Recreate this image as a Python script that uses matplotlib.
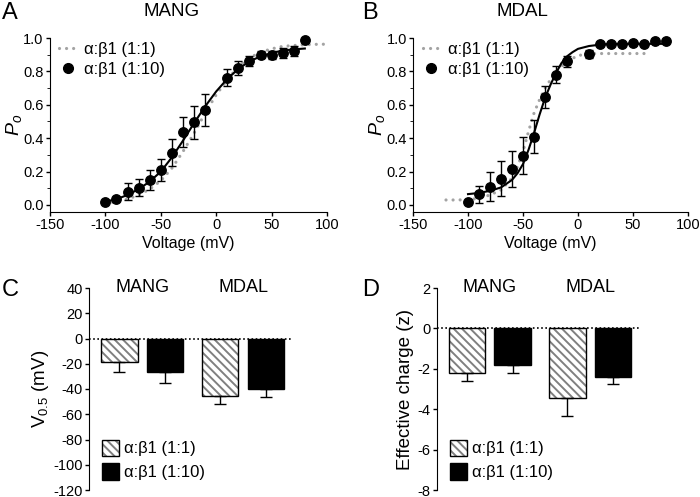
import numpy as np
import matplotlib
matplotlib.use("Agg")
import matplotlib.pyplot as plt
from matplotlib.lines import Line2D
from matplotlib.legend_handler import HandlerTuple

plt.rcParams['font.family'] = ['Liberation Sans', 'DejaVu Sans']
plt.rcParams['mathtext.fontset'] = 'custom'
plt.rcParams['mathtext.rm'] = 'Liberation Sans'
plt.rcParams['mathtext.it'] = 'Liberation Sans:italic'
plt.rcParams['axes.unicode_minus'] = False
plt.rcParams['hatch.linewidth'] = 1.4

# Panel A (MANG) - alpha:beta1 (1:10) data
volt_a = [-100, -90, -80, -70, -60, -50, -40, -30, -20, -10, 10, 20, 30, 40, 50, 60, 70, 80]
po_a = [0.016, 0.036, 0.08, 0.104, 0.15, 0.21, 0.314, 0.436, 0.496, 0.57,
        0.762, 0.82, 0.86, 0.9, 0.9, 0.91, 0.92, 0.986]
err_a = [0.005, 0.01, 0.05, 0.052, 0.06, 0.068, 0.082, 0.088, 0.098, 0.096,
         0.052, 0.04, 0.03, 0.02, 0.025, 0.03, 0.03, 0.0]
# fit lines
fit_v_a = [-100, -90, -80, -70, -60, -50, -40, -30, -20, -10, 0, 10, 20, 30, 40, 50, 60, 70, 80]
fit_a = [0.02, 0.035, 0.06, 0.095, 0.14, 0.2, 0.285, 0.385, 0.49, 0.59, 0.68,
         0.755, 0.815, 0.86, 0.89, 0.91, 0.925, 0.932, 0.937]
gray_v_a = [-100, -90, -80, -70, -60, -50, -40, -30, -20, -10, 0, 10, 20, 30, 40, 50, 60, 70, 80, 90, 100]
gray_a = [0.01, 0.02, 0.035, 0.06, 0.095, 0.145, 0.22, 0.32, 0.43, 0.55, 0.66,
          0.75, 0.83, 0.88, 0.915, 0.935, 0.95, 0.955, 0.96, 0.962, 0.963]

# Panel B (MDAL)
volt_b = [-100, -90, -80, -70, -60, -50, -40, -30, -20, -10, 10, 20, 30, 40, 50, 60, 70, 80]
po_b = [0.016, 0.064, 0.11, 0.156, 0.216, 0.296, 0.41, 0.644, 0.78, 0.86,
        0.905, 0.965, 0.965, 0.965, 0.97, 0.965, 0.985, 0.985]
err_b = [0.0, 0.05, 0.085, 0.105, 0.11, 0.11, 0.1, 0.066, 0.05, 0.035,
         0.025, 0, 0, 0, 0, 0, 0, 0]
fit_v_b = [-100, -90, -80, -70, -60, -55, -50, -45, -40, -35, -30, -25, -20, -15, -10, -5, 0, 10, 20, 30, 80]
fit_b = [0.065, 0.072, 0.085, 0.105, 0.15, 0.19, 0.245, 0.33, 0.43, 0.54, 0.64,
         0.72, 0.79, 0.85, 0.89, 0.915, 0.935, 0.952, 0.96, 0.965, 0.965]
gray_v_b = [-120, -110, -100, -90, -80, -70, -60, -55, -50, -45, -40, -35, -30, -25, -20, -10, 0, 10, 20, 60]
gray_b = [0.03, 0.03, 0.032, 0.04, 0.06, 0.09, 0.16, 0.23, 0.32, 0.44, 0.55, 0.63, 0.7,
          0.75, 0.8, 0.86, 0.895, 0.905, 0.907, 0.907]

# Panels C and D
groups = ['MANG', 'MDAL']
v05_11 = [-19, -45.5]
v05_11_err = [7.8, 6]
v05_110 = [-26.5, -40.3]
v05_110_err = [8.8, 6.2]
z_11 = [-2.2, -3.45]
z_11_err = [0.4, 0.88]
z_110 = [-1.83, -2.43]
z_110_err = [0.38, 0.32]

lab11 = 'α:β1 (1:1)'
lab110 = 'α:β1 (1:10)'
gray = '#a3a3a3'
dots = (0, (0.01, 2.2))

fig = plt.figure(figsize=(7, 4.97), dpi=100)
H = 497.0


def ax_at(left, top, right, bottom):
    return fig.add_axes([left / 700, 1 - bottom / H, (right - left) / 700, (bottom - top) / H])


def curve_panel(ax, vv, po, err, fv, fy, gv, gy, ylab):
    ax.plot(gv, gy, color=gray, lw=2.3, linestyle=dots,
            dash_capstyle='round', clip_on=False)
    ax.plot(fv, fy, color='black', lw=1.5, clip_on=False)
    ax.errorbar(vv, po, yerr=err, fmt='o', color='black', ms=6.8, capsize=3,
                elinewidth=1, capthick=1, clip_on=False)
    ax.set_xlim(-150, 100)
    ax.set_ylim(-0.042, 1.0)
    ax.set_xticks([-150, -100, -50, 0, 50, 100])
    ax.set_yticks([0, 0.2, 0.4, 0.6, 0.8, 1.0])
    ax.set_yticks(np.arange(0.1, 1.0, 0.2), minor=True)
    ax.set_yticklabels(['0.0', '0.2', '0.4', '0.6', '0.8', '1.0'])
    for s in ['top', 'right']:
        ax.spines[s].set_visible(False)
    ax.tick_params(labelsize=10.5, width=1, length=3, pad=1.5)
    ax.tick_params(which='minor', length=2)
    ax.set_xlabel('Voltage (mV)', fontsize=11.5, labelpad=3)
    ax.set_ylabel(ylab, fontsize=14)
    ax.yaxis.set_label_coords(-0.095, 0.5)
    handles = [Line2D([], [], color=gray, lw=2.3, linestyle=dots, dash_capstyle='round'),
               Line2D([], [], color='black', marker='o', ms=7, lw=0)]
    ax.legend(handles, [lab11, lab110], loc='upper left', bbox_to_anchor=(-0.02, 1.065),
              frameon=False, fontsize=12, handlelength=1.0, handletextpad=0.5,
              labelspacing=0.3)


ax_a = ax_at(50, 38, 327, 212)
curve_panel(ax_a, volt_a, po_a, err_a, fit_v_a, fit_a, gray_v_a, gray_a, r'$P_o$')
ax_b = ax_at(413, 38, 688, 212)
curve_panel(ax_b, volt_b, po_b, err_b, fit_v_b, fit_b, gray_v_b, gray_b, r'$P_o$')


def bar_panel(ax, a, a_err, b, b_err, ylim, yticks, ylab, ytop, labx):
    x11 = np.array([0.0, 2.2])
    x110 = x11 + 1.0
    w = 0.8
    h1 = ax.bar(x11, a, width=w, color='white', edgecolor='#808080', hatch='\\\\\\\\', linewidth=0)
    h2 = ax.bar(x11, a, width=w, fill=False, edgecolor='black', linewidth=1)
    h3 = ax.bar(x110, b, width=w, color='black', edgecolor='black', linewidth=1)
    ax.errorbar(x11, a, yerr=[a_err, [0, 0]], fmt='none', ecolor='black',
                capsize=4, elinewidth=1, capthick=1)
    ax.errorbar(x110, b, yerr=[b_err, [0, 0]], fmt='none', ecolor='black',
                capsize=4, elinewidth=1, capthick=1)
    ax.axhline(0, color='black', lw=1.2, linestyle=(0, (1, 1.5)))
    ax.set_xlim(-0.66, 3.79)
    ax.set_ylim(*ylim)
    ax.set_yticks(yticks)
    ax.set_xticks([])
    for s in ['top', 'right', 'bottom']:
        ax.spines[s].set_visible(False)
    ax.tick_params(labelsize=10.5, width=1, length=3, pad=1.5)
    ax.set_ylabel(ylab, fontsize=13.5)
    ax.yaxis.set_label_coords(labx, 0.5)
    for xc, g in zip((x11 + x110) / 2, groups):
        ax.text(xc, ytop, g, ha='center', va='center', fontsize=13)
    ax.legend([(h1[0], h2[0]), h3[0]], [lab11, lab110],
              handler_map={tuple: HandlerTuple(ndivide=1)},
              loc='lower left', bbox_to_anchor=(-0.01, -0.025), frameon=False,
              fontsize=12, handlelength=1.05, handleheight=1.15,
              handletextpad=0.3, labelspacing=0.4)


ax_c = ax_at(89, 288, 293, 490)
bar_panel(ax_c, v05_11, v05_11_err, v05_110, v05_110_err, (-120, 40),
          np.arange(-120, 41, 20), r'V$_{\it{0.5}}$ (mV)', 40, -0.185)
ax_d = ax_at(437, 288, 640, 490)
bar_panel(ax_d, z_11, z_11_err, z_110, z_110_err, (-8, 2),
          np.arange(-8, 3, 2), 'Effective charge (z)', 2, -0.115)

# titles and panel letters
fig.text(2 / 700, 1 - 13 / H, 'A', fontsize=17, va='center')
fig.text(362 / 700, 1 - 13 / H, 'B', fontsize=17, va='center')
fig.text(2 / 700, 1 - 290 / H, 'C', fontsize=17, va='center')
fig.text(362 / 700, 1 - 290 / H, 'D', fontsize=17, va='center')
fig.text(172 / 700, 1 - 12 / H, 'MANG', fontsize=13.5, ha='center', va='center')
fig.text(522 / 700, 1 - 12 / H, 'MDAL', fontsize=13.5, ha='center', va='center')

fig.savefig('out.png', dpi=100)
